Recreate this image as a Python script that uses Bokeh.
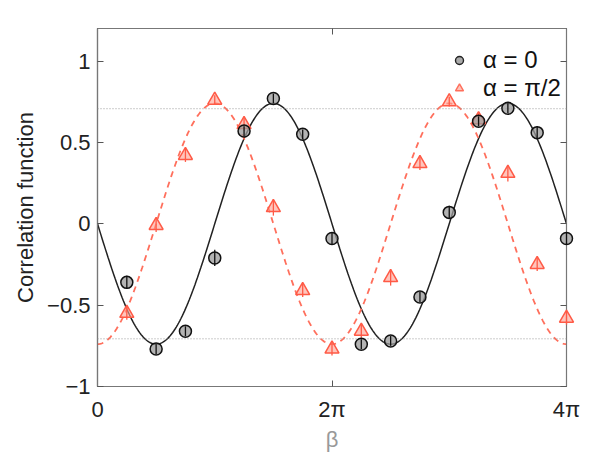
import numpy as np
from bokeh.plotting import figure
from bokeh.models import (Range1d, FixedTicker, LinearAxis, Span, Legend, LegendItem,
                          ColumnDataSource)
from bokeh.embed import file_html
from bokeh.resources import INLINE

# beta in units of pi
beta = [0.25, 0.5, 0.75, 1.0, 1.25, 1.5, 1.75, 2.0, 2.25, 2.5, 2.75, 3.0, 3.25, 3.5, 3.75, 4.0]
corr_alpha0 = [-0.36, -0.77, -0.66, -0.21, 0.57, 0.77, 0.55, -0.09,
               -0.74, -0.72, -0.45, 0.07, 0.63, 0.71, 0.56, -0.09]
err_alpha0 = [0.04, 0.03, 0.03, 0.05, 0.03, 0.03, 0.03, 0.04,
              0.03, 0.03, 0.03, 0.04, 0.03, 0.03, 0.04, 0.04]
corr_alpha_pi2 = [-0.55, -0.01, 0.42, 0.76, 0.61, 0.10, -0.41, -0.77,
                  -0.66, -0.33, 0.37, 0.75, 0.64, 0.31, -0.25, -0.58]
err_alpha_pi2 = [0.04, 0.04, 0.04, 0.03, 0.04, 0.05, 0.04, 0.04,
                 0.04, 0.05, 0.04, 0.03, 0.04, 0.05, 0.04, 0.04]
# theory curves: amplitude of the model cosine/sine
amplitude = 0.74
bound = 0.707
x_ticks = [0, 2, 4]
x_tick_labels = ["0", "2π", "4π"]
y_ticks = [-1, -0.5, 0, 0.5, 1]
y_tick_labels = ["−1", "−0.5", "0", "0.5", "1"]

FONT = "Liberation Sans"

p = figure(width=600, height=472, output_backend="svg", toolbar_location=None,
           x_range=Range1d(0, 4), y_range=Range1d(-1, 1.2),
           min_border_left=97, min_border_right=34, min_border_top=28, min_border_bottom=86)
p.background_fill_color = "white"
p.border_fill_color = "white"
p.outline_line_color = "#777777"
p.outline_line_width = 1.2
p.grid.visible = False

for ax in (p.xaxis[0], p.yaxis[0]):
    ax.axis_line_color = "#777777"
    ax.axis_line_width = 1.2
    ax.major_tick_in = 6
    ax.major_tick_out = 0
    ax.minor_tick_line_color = None
    ax.major_tick_line_color = "#555555"
    ax.major_label_text_font = FONT
    ax.major_label_text_font_size = "22px"
    ax.major_label_text_color = "#222222"
    ax.axis_label_text_font = FONT
    ax.axis_label_text_font_style = "normal"
    ax.axis_label_text_font_size = "22px"

p.xaxis[0].ticker = FixedTicker(ticks=x_ticks)
p.xaxis[0].major_label_overrides = {t: l for t, l in zip(x_ticks, x_tick_labels)}
p.xaxis[0].major_label_standoff = 10
p.xaxis[0].axis_label = "β"
p.xaxis[0].axis_label_text_color = "#999999"
p.xaxis[0].axis_label_standoff = 2

p.yaxis[0].ticker = FixedTicker(ticks=y_ticks)
p.yaxis[0].major_label_overrides = {t: l for t, l in zip(y_ticks, y_tick_labels)}
p.yaxis[0].major_label_standoff = 7
p.yaxis[0].axis_label = "Correlation function"
p.yaxis[0].axis_label_text_color = "#222222"
p.yaxis[0].axis_label_standoff = 6

# mirrored ticks on top and right (no labels)
top = LinearAxis(ticker=FixedTicker(ticks=x_ticks),
                 major_label_overrides={t: "" for t in x_ticks},
                 major_tick_in=6, major_tick_out=0, minor_tick_line_color=None,
                 axis_line_color="#777777", major_tick_line_color="#555555",
                 major_label_standoff=0)
right = LinearAxis(ticker=FixedTicker(ticks=y_ticks),
                   major_label_overrides={t: "" for t in y_ticks},
                   major_tick_in=6, major_tick_out=0, minor_tick_line_color=None,
                   axis_line_color="#777777", major_tick_line_color="#555555",
                   major_label_standoff=0)
p.add_layout(top, "above")
p.add_layout(right, "right")

# dotted bounds
for b in (bound, -bound):
    p.add_layout(Span(location=b, dimension="width", line_color="#999999",
                      line_dash="1 2", line_width=1))

# theory curves
xs = np.linspace(0, 4, 400)
p.line(xs, -amplitude * np.sin(np.pi * xs), line_color="#222222", line_width=1.5)
p.line(xs, -amplitude * np.cos(np.pi * xs), line_color="#ff6f5c", line_width=1.8,
       line_dash="6 5")

src = ColumnDataSource(dict(
    x=beta, y0=corr_alpha0, y1=corr_alpha_pi2,
    lo0=[v - e for v, e in zip(corr_alpha0, err_alpha0)],
    hi0=[v + e for v, e in zip(corr_alpha0, err_alpha0)],
    lo1=[v - e for v, e in zip(corr_alpha_pi2, err_alpha_pi2)],
    hi1=[v + e for v, e in zip(corr_alpha_pi2, err_alpha_pi2)],
))

p.scatter("x", "y1", source=src, marker="triangle", size=14, level="overlay",
          fill_color="#ff9f90", fill_alpha=0.6, line_color="#ff5a46", line_width=1.5)
p.segment("x", "lo1", "x", "hi1", source=src, line_color="#ff5a46", line_width=1.3,
          level="overlay")
p.scatter("x", "y0", source=src, marker="circle", size=12, level="overlay",
          fill_color="#999999", fill_alpha=0.75, line_color="#111111", line_width=1.5)
p.segment("x", "lo0", "x", "hi0", source=src, line_color="#111111", line_width=1.3,
          level="overlay")

# legend-only renderers (smaller markers), placed outside the visible range
offscreen = ColumnDataSource(dict(x=[-10], y=[-10]))
lg0 = p.scatter("x", "y", source=offscreen, marker="circle", size=10,
                fill_color="#aaaaaa", line_color="#222222", line_width=1.4)
lg1 = p.scatter("x", "y", source=offscreen, marker="triangle", size=12,
                fill_color="#ffb4a8", fill_alpha=0.8, line_color="#ff6f5c", line_width=1.4)

legend = Legend(items=[LegendItem(label="α = 0", renderers=[lg0]),
                       LegendItem(label="α = π/2", renderers=[lg1])],
                location=(352, 284), padding=0, margin=0, spacing=-7,
                glyph_width=20, glyph_height=20, label_height=20, label_standoff=14,
                label_text_font=FONT, label_text_font_size="24px",
                label_text_color="#111111",
                border_line_color=None, background_fill_alpha=0)
p.add_layout(legend, "center")

open("out.html", "w").write(file_html(p, INLINE))
